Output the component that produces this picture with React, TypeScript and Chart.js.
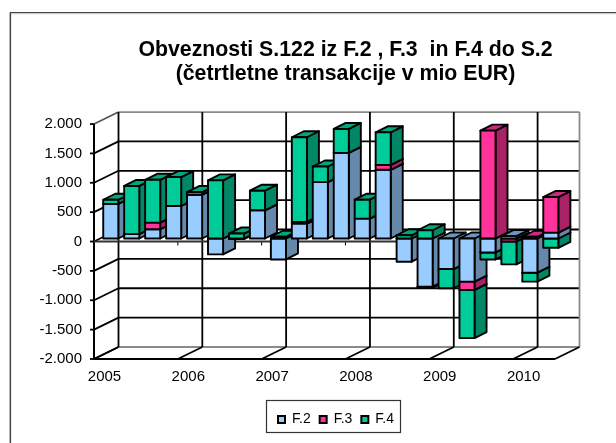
import React, { useEffect, useRef } from "react";
import { Chart, registerables } from "chart.js";

Chart.register(...registerables);

const categories = [
  "2005", "", "", "",
  "2006", "", "", "",
  "2007", "", "", "",
  "2008", "", "", "",
  "2009", "", "", "",
  "2010", "",
];
const f2 = [590, 75, 158, 554, 746, -270, -10, 480, -356, 254, 960, 1458, 339, 1170, -395, -819, -520, -734, -237, 40, -582, 100];
const f3 = [0, 0, 113, 0, 0, 0, 0, 0, 0, 30, 0, 0, 0, 84, 0, -20, 0, -141, 1836, -50, 30, 606];
const f4 = [70, 820, 729, 491, 45, 990, 85, 334, 30, 1440, 266, 407, 322, 554, 56, 141, -327, -820, -119, -390, -152, -158];

const yTicksFormat = (v: number) => {
  const a = Math.abs(v);
  const s = a >= 1000 ? `${Math.floor(a / 1000)}.${String(a % 1000).padStart(3, "0")}` : String(a);
  return v < 0 ? `-${s}` : s;
};

const FRONT = ["#99CCFF", "#FF3399", "#00CC99"];
const SIDE = ["#6688AA", "#AA2266", "#008866"];
const TOP = ["#6F94BD", "#CC2A7F", "#00A67C"];

const WALL_DX = 24.5;
const WALL_DY = -12;
const BAR_OX = 6.3;
const BAR_OY = -3;
const BAR_DX = 12;
const BAR_DY = -6;

const poly = (ctx: CanvasRenderingContext2D, pts: number[][], fill: string) => {
  ctx.beginPath();
  pts.forEach((p, i) => (i ? ctx.lineTo(p[0], p[1]) : ctx.moveTo(p[0], p[1])));
  ctx.closePath();
  ctx.fillStyle = fill;
  ctx.fill();
  ctx.stroke();
};

const line = (ctx: CanvasRenderingContext2D, x1: number, y1: number, x2: number, y2: number, color = "#000", w = 1.8) => {
  ctx.beginPath();
  ctx.strokeStyle = color;
  ctx.lineWidth = w;
  ctx.moveTo(x1, y1);
  ctx.lineTo(x2, y2);
  ctx.stroke();
};

const box3d: any = {
  id: "box3d",
  beforeDraw(chart: any) {
    const { ctx, legend, titleBlock } = chart;
    ctx.save();
    ctx.fillStyle = "#fff";
    ctx.fillRect(0, 0, chart.width, chart.height);
    line(ctx, 9.5, 13, 9.5, 443, "#c0c0c0", 1);
    line(ctx, 10.5, 12.5, 616, 12.5, "#444", 1.2);
    line(ctx, 10.5, 12, 10.5, 443, "#444", 1.2);
    line(ctx, 11, 13.7, 616, 13.7, "#c0c0c0", 1);
    ctx.restore();
    if (legend) {
      const w = legend.width;
      legend.left = 336 - w / 2;
      legend.right = 336 + w / 2;
      legend.top = 403.5;
      legend.bottom = 403.5 + legend.height;
      ctx.save();
      ctx.strokeStyle = "#333";
      ctx.lineWidth = 1.2;
      ctx.strokeRect(266.5, 400.5, 134, 32);
      ctx.restore();
    }
    if (titleBlock) {
      titleBlock.left = 345.5 - titleBlock.width / 2;
      titleBlock.right = 345.5 + titleBlock.width / 2;
    }
  },
  beforeDatasetsDraw(chart: any) {
    const { ctx } = chart;
    const xs = chart.scales.x;
    const ys = chart.scales.y;
    const step = xs.getPixelForValue(1) - xs.getPixelForValue(0);
    const edge = (i: number) => xs.getPixelForValue(i) - step / 2;
    const L = edge(0);
    const R = edge(categories.length);
    const B = ys.getPixelForValue(ys.min);
    const T = ys.getPixelForValue(ys.max);
    ctx.save();
    // walls
    ys.ticks.forEach((t: any) => {
      const y = ys.getPixelForValue(t.value);
      const outer = t.value === ys.min || t.value === ys.max;
      line(ctx, L + WALL_DX, y + WALL_DY, R + WALL_DX, y + WALL_DY, outer ? "#8a8a8a" : "#000");
      line(ctx, L, y, L + WALL_DX, y + WALL_DY, t.value === ys.max ? "#555" : "#000");
      line(ctx, L - 4, y, L, y, "#000");
    });
    line(ctx, R + WALL_DX, T + WALL_DY, R + WALL_DX, B + WALL_DY, "#8a8a8a");
    categories.forEach((c, i) => {
      if (!c) return;
      const x = edge(i);
      line(ctx, x + WALL_DX, T + WALL_DY, x + WALL_DX, B + WALL_DY, "#000");
      line(ctx, x, B, x + WALL_DX, B + WALL_DY, "#000");
      line(ctx, x, ys.getPixelForValue(0), x, ys.getPixelForValue(0) + 4, "#000", 1);
    });
    line(ctx, R, B, R + WALL_DX, B + WALL_DY, "#000");
    line(ctx, L, T, L, B, "#000", 2);
    line(ctx, L, B, R, B, "#000", 2);
    line(ctx, L, ys.getPixelForValue(0), R, ys.getPixelForValue(0), "#333", 2);

    // bars, painted left to right, lowest box first
    ctx.lineWidth = 1.9;
    ctx.strokeStyle = "#000";
    ctx.lineJoin = "round";
    categories.forEach((_, i) => {
      const boxes: any[] = [];
      chart.data.datasets.forEach((ds: any, d: number) => {
        if (!ds.data[i]) return;
        const el = chart.getDatasetMeta(d).data[i];
        const p = el.getProps(["x", "y", "base", "width"], true);
        boxes.push({ d, left: p.x - p.width / 2 + BAR_OX, right: p.x + p.width / 2 + BAR_OX, top: Math.min(p.y, p.base) + BAR_OY, bot: Math.max(p.y, p.base) + BAR_OY });
      });
      boxes.sort((a, b) => b.bot - a.bot);
      boxes.forEach((b) => {
        poly(ctx, [[b.right, b.top], [b.right + BAR_DX, b.top + BAR_DY], [b.right + BAR_DX, b.bot + BAR_DY], [b.right, b.bot]], SIDE[b.d]);
        poly(ctx, [[b.left, b.top], [b.left + BAR_DX, b.top + BAR_DY], [b.right + BAR_DX, b.top + BAR_DY], [b.right, b.top]], TOP[b.d]);
        poly(ctx, [[b.left, b.top], [b.right, b.top], [b.right, b.bot], [b.left, b.bot]], FRONT[b.d]);
      });
    });
    ctx.restore();
    return false;
  },
};

export default function App() {
  const ref = useRef<HTMLCanvasElement>(null);
  useEffect(() => {
    const chart = new Chart(ref.current as HTMLCanvasElement, {
      type: "bar",
      plugins: [box3d],
      data: {
        labels: categories,
        datasets: [
          { label: "F.2", data: f2, backgroundColor: FRONT[0], borderColor: "#000", borderWidth: 2 },
          { label: "F.3", data: f3, backgroundColor: FRONT[1], borderColor: "#000", borderWidth: 2 },
          { label: "F.4", data: f4, backgroundColor: FRONT[2], borderColor: "#000", borderWidth: 2 },
        ],
      },
      options: {
        responsive: false,
        animation: false,
        layout: { autoPadding: false, padding: { left: 0, right: 61, top: 0, bottom: 0 } },
        datasets: { bar: { barPercentage: 0.72, categoryPercentage: 1 } },
        scales: {
          x: {
            stacked: true,
            offset: true,
            grid: { display: false },
            border: { display: false },
            afterFit: (s: any) => { s.height = 51; },
            ticks: {
              autoSkip: false,
              maxRotation: 0,
              padding: 1,
              color: "#000",
              font: { family: "'Liberation Sans'", size: 15 },
            },
          },
          y: {
            stacked: true,
            min: -2000,
            max: 2000,
            grid: { display: false },
            border: { display: false },
            afterFit: (s: any) => { s.width = 94; },
            ticks: {
              stepSize: 500,
              padding: 4,
              color: "#000",
              font: { family: "'Liberation Sans'", size: 15 },
              callback: (v: any) => yTicksFormat(Number(v)),
            },
          },
        },
        plugins: {
          tooltip: { enabled: false },
          title: {
            display: true,
            text: ["Obveznosti S.122 iz F.2 , F.3  in F.4 do S.2", "(četrtletne transakcije v mio EUR)"],
            color: "#000",
            font: { family: "'Liberation Sans'", size: 21.3, weight: "bold", lineHeight: 1.13 },
            padding: { top: 38, bottom: 37.9 },
          },
          legend: {
            position: "bottom",
            labels: {
              boxWidth: 7,
              boxHeight: 7,
              padding: 9,
              color: "#000",
              font: { family: "'Liberation Sans'", size: 14 },
            },
          },
        },
      },
    } as any);
    return () => chart.destroy();
  }, []);
  return <canvas ref={ref} width={616} height={443} style={{ position: "absolute", left: 0, top: 0, display: "block" }} />;
}
